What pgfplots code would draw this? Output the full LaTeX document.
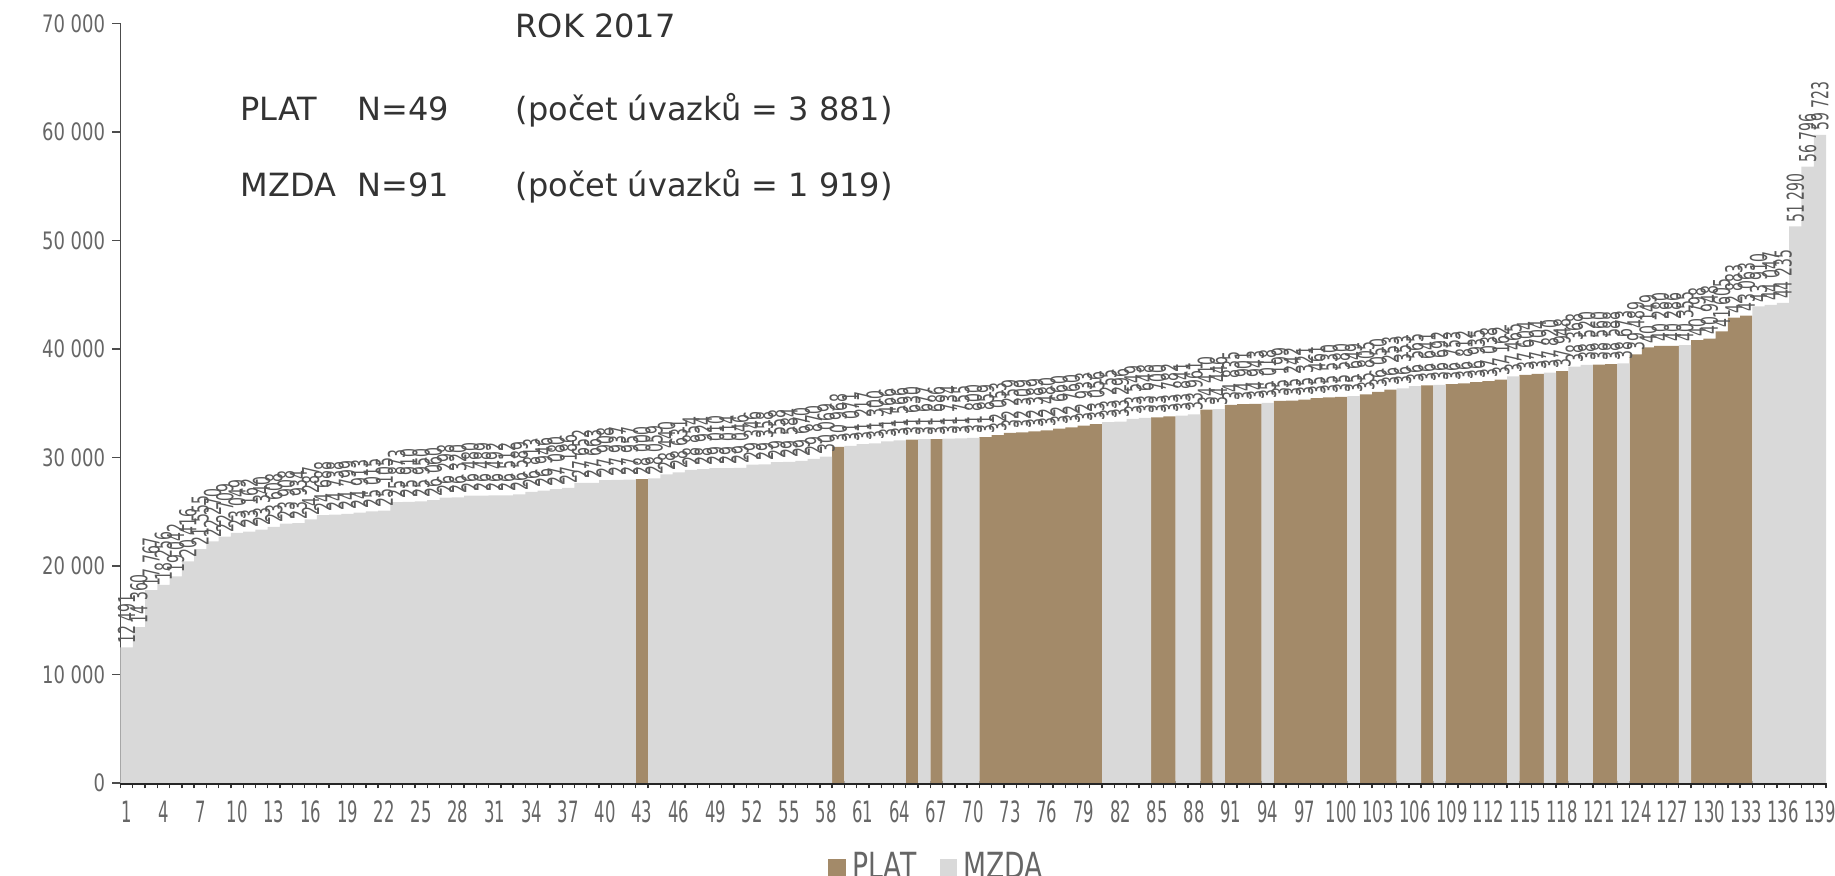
\documentclass[border=0pt]{standalone}
\usepackage{fontspec}
\usepackage{pgfplots}
\usepackage{pgfplotstable}
\pgfplotsset{compat=1.18}
\setmainfont{DejaVu Sans}
\newfontfamily\condfont{DejaVu Sans}[FakeStretch=0.6]
\newfontfamily\xfont{DejaVu Sans}[FakeStretch=0.56]
\newfontfamily\yfont{DejaVu Sans}[FakeStretch=0.75]
\newfontfamily\legfont{DejaVu Sans}[FakeStretch=0.74]

\definecolor{plat}{HTML}{A38A69}
\definecolor{mzda}{HTML}{D9D9D9}
\definecolor{lbl}{HTML}{595959}
\definecolor{tck}{HTML}{666666}
\definecolor{ttl}{HTML}{333333}

% PLAT bars (index, monthly value)
\pgfplotstableread{
x y
43 28000
59 30968
65 31630
67 31686
71 31859
72 32053
73 32259
74 32309
75 32389
76 32480
77 32660
78 32760
79 32933
80 33056
85 33700
86 33782
89 34410
91 34835
92 34901
93 34943
95 35199
96 35242
97 35321
98 35461
99 35530
100 35580
102 35805
103 36050
104 36253
107 36641
109 36753
110 36812
111 36935
112 37038
113 37162
115 37604
116 37704
118 37948
121 38560
122 38588
124 39489
125 40149
126 40280
127 40286
129 40798
130 40948
131 41605
132 42883
133 43063
}\plat

% MZDA bars
\pgfplotstableread{
x y
1 12491
2 14360
3 17767
4 18256
5 19042
6 20416
7 21555
8 22270
9 22709
10 23049
11 23162
12 23340
13 23608
14 23908
15 23934
16 24287
17 24688
18 24738
19 24799
20 24913
21 25015
22 25105
23 25873
24 25910
25 25950
26 26060
27 26298
28 26320
29 26480
30 26489
31 26492
32 26512
33 26589
34 26813
35 26946
36 27080
37 27186
38 27652
39 27663
40 27908
41 27937
42 27957
44 28059
45 28440
46 28631
47 28854
48 28924
49 29010
50 29014
51 29046
52 29346
53 29358
54 29558
55 29584
56 29670
57 29870
58 30069
60 31071
61 31217
62 31300
63 31466
64 31566
66 31677
68 31734
69 31755
70 31800
81 33255
82 33296
83 33549
84 33648
87 33841
88 33961
90 34446
94 35018
101 35649
105 36353
106 36565
108 36692
114 37465
117 37820
119 38368
120 38520
123 38673
128 40355
134 43910
135 44047
136 44235
137 51290
138 56796
139 59723
}\mzda

\begin{document}
\begin{tikzpicture}
\path[use as bounding box] (-36.15pt,-27.9pt) rectangle (514.4pt,234.9pt);
\begin{axis}[
  at={(0,0)}, anchor=south west,
  width=511.7pt, height=227.9pt, scale only axis,
  xmin=0.5, xmax=139.5, ymin=0, ymax=70000,
  clip=false,
  axis x line*=bottom, axis y line*=left,
  x axis line style={black!85, line width=1pt},
  y axis line style={black!70, line width=0.5pt},
  tick align=outside,
  xtick={1,4,...,139},
  major x tick style={draw=none},
  minor xtick={0.5,1.5,...,139.5},
  minor x tick style={black!80, line width=0.4pt},
  minor tick length=1.6pt,
  ytick={0,10000,...,70000},
  major y tick style={black!70, line width=0.5pt},
  major tick length=2.5pt,
  scaled y ticks=false,
  /pgf/number format/.cd, 1000 sep={\ }, assume math mode=true, /pgfplots/.cd,
  xticklabel style={font=\xfont\fontsize{8.8}{9}\selectfont, text=tck, yshift=0.6pt},
  yticklabel style={font=\yfont\fontsize{7.2}{8}\selectfont, text=tck, xshift=1.4pt},
  ybar=0pt, bar width=1,
  nodes near coords,
  nodes near coords align=horizontal,
  every node near coord/.append style={rotate=90, anchor=west,
    font=\condfont\fontsize{7}{7}\selectfont, text=lbl, inner sep=1pt},
  legend style={at={(0.480,-0.112)}, anchor=center, draw=none, fill=none,
    legend columns=2, font=\legfont\fontsize{10.8}{11}\selectfont, text=tck,
    /tikz/every even column/.append style={column sep=5pt},
    /tikz/every odd column/.append style={column sep=0pt}},
  legend image code/.code={\fill[#1] (-0.6pt,-2.6pt) rectangle (4.6pt,2.6pt);},
]
\addplot[fill=plat, draw=none, bar shift=0pt] table[x=x, y=y] {\plat};
\addplot[fill=mzda, draw=none, bar shift=0pt] table[x=x, y=y] {\mzda};
\legend{PLAT, MZDA}

\node[anchor=base west, inner sep=0pt, font=\fontsize{9.6}{11}\selectfont, text=ttl]
  at (rel axis cs:0.2313,0.9818) {ROK 2017};
\node[anchor=base west, inner sep=0pt, font=\fontsize{9.6}{11}\selectfont, text=ttl]
  at (rel axis cs:0.0700,0.8724) {PLAT};
\node[anchor=base west, inner sep=0pt, font=\fontsize{9.6}{11}\selectfont, text=ttl]
  at (rel axis cs:0.1387,0.8724) {N=49};
\node[anchor=base west, inner sep=0pt, font=\fontsize{9.6}{11}\selectfont, text=ttl]
  at (rel axis cs:0.2313,0.8724) {(počet úvazků = 3 881)};
\node[anchor=base west, inner sep=0pt, font=\fontsize{9.6}{11}\selectfont, text=ttl]
  at (rel axis cs:0.0700,0.7721) {MZDA};
\node[anchor=base west, inner sep=0pt, font=\fontsize{9.6}{11}\selectfont, text=ttl]
  at (rel axis cs:0.1387,0.7721) {N=91};
\node[anchor=base west, inner sep=0pt, font=\fontsize{9.6}{11}\selectfont, text=ttl]
  at (rel axis cs:0.2313,0.7721) {(počet úvazků = 1 919)};
\end{axis}
\end{tikzpicture}
\end{document}
